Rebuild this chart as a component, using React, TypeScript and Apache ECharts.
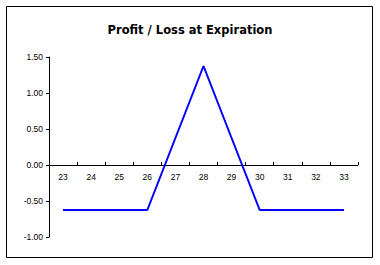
import React, { useEffect, useRef } from "react";
import * as echarts from "echarts";

const categories = ["23", "24", "25", "26", "27", "28", "29", "30", "31", "32", "33"];
const profitLoss = [-0.625, -0.625, -0.625, -0.625, 0.375, 1.375, 0.375, -0.625, -0.625, -0.625, -0.625];
const titleText = "Profit / Loss at Expiration";

export default function App() {
  const ref = useRef<HTMLDivElement>(null);
  useEffect(() => {
    if (!ref.current) return;
    const chart = echarts.init(ref.current, null, { renderer: "svg" });
    chart.setOption({
      animation: false,
      backgroundColor: "#ffffff",
      title: {
        text: titleText,
        left: "center",
        top: 19,
        textStyle: { fontFamily: "DejaVu Sans", fontSize: 11.5, fontWeight: "bold", color: "#000" },
      },
      graphic: [
        {
          type: "rect",
          shape: { x: 6.5, y: 6.5, width: 366, height: 251 },
          style: { fill: "none", stroke: "#000", lineWidth: 1 },
          silent: true,
        },
      ],
      grid: { left: 49, right: 22, top: 57, bottom: 28, containLabel: false },
      xAxis: {
        type: "category",
        data: categories,
        boundaryGap: true,
        offset: -72,
        axisLine: { onZero: false, lineStyle: { color: "#000", width: 1 } },
        axisTick: { show: true, inside: true, length: 3, alignWithLabel: false, lineStyle: { color: "#000" } },
        axisLabel: { fontFamily: "Liberation Sans", fontSize: 8.5, color: "#000", margin: 7, interval: 0 },
        splitLine: { show: false },
      },
      yAxis: {
        type: "value",
        min: -1,
        max: 1.5,
        interval: 0.5,
        axisLine: { show: true, lineStyle: { color: "#000", width: 1 } },
        axisTick: { show: true, length: 3, lineStyle: { color: "#000" } },
        axisLabel: {
          fontFamily: "Liberation Sans",
          fontSize: 8.5,
          color: "#000",
          margin: 6,
          formatter: (v: number) => v.toFixed(2),
        },
        splitLine: { show: false },
      },
      series: [
        {
          type: "line",
          data: profitLoss,
          symbol: "none",
          lineStyle: { color: "#0000ff", width: 2 },
        },
      ],
    });
    return () => chart.dispose();
  }, []);
  return <div ref={ref} style={{ position: "absolute", left: 0, top: 0, width: 380, height: 265 }} />;
}
